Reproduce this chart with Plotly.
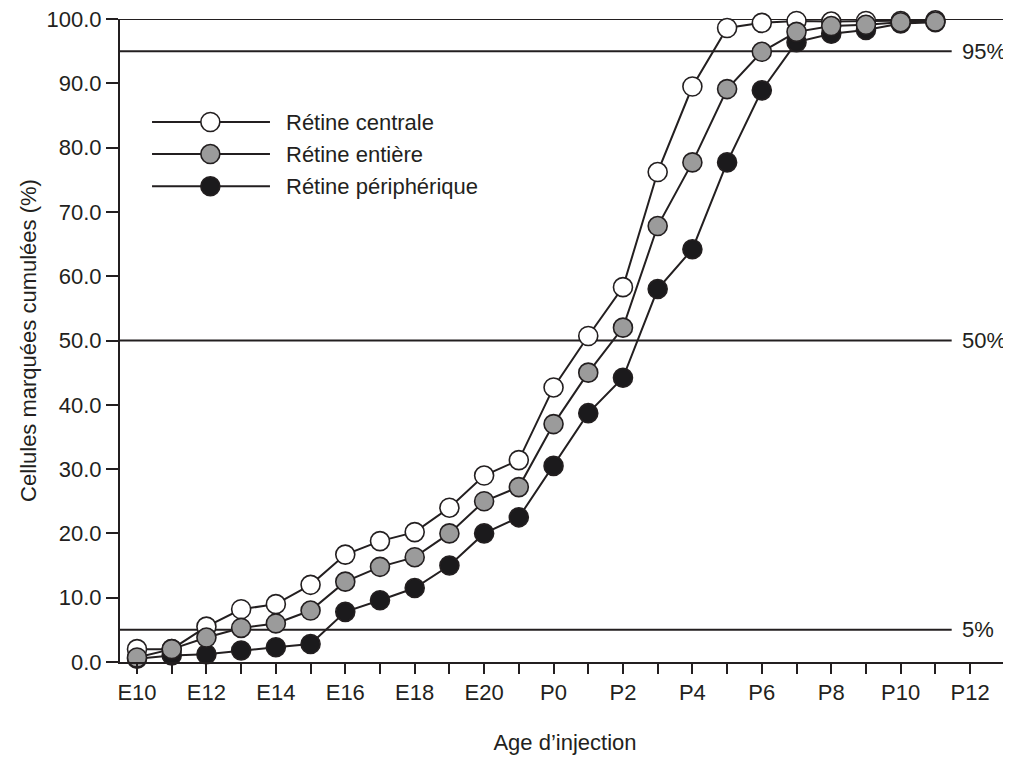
import plotly.graph_objects as go

ages = [f"E{i}" for i in range(10, 22)] + [f"P{i}" for i in range(0, 14)]
tick_labels = [a if k % 2 == 0 else "" for k, a in enumerate(ages)]

data_ages = ages[:24]  # E10 .. P11
centrale = [2.0, 2.0, 5.5, 8.2, 9.0, 12.0, 16.7, 18.8, 20.2, 24.0, 29.0, 31.4,
            42.7, 50.7, 58.3, 76.2, 89.5, 98.6, 99.4, 99.7, 99.6, 99.7, 99.7, 99.8]
entiere = [0.7, 2.0, 3.8, 5.3, 6.0, 8.0, 12.5, 14.8, 16.3, 20.0, 25.0, 27.2,
           37.0, 45.0, 52.0, 67.8, 77.7, 89.1, 94.9, 98.0, 98.9, 99.1, 99.5, 99.6]
peripherique = [0.5, 1.0, 1.2, 1.8, 2.3, 2.8, 7.8, 9.6, 11.5, 15.0, 20.0, 22.5,
                30.5, 38.7, 44.2, 58.0, 64.2, 77.7, 88.9, 96.4, 97.7, 98.3, 99.3, 99.5]

series_names = ["Rétine centrale", "Rétine entière", "Rétine périphérique"]
series_values = [centrale, entiere, peripherique]
series_fill = ["#ffffff", "#9b9b9b", "#1b1a1c"]

thresholds = [95, 50, 5]
threshold_labels = ["95%", "50%", "5%"]

INK = "#231f20"
FONT = "Liberation Sans, Arial, sans-serif"
FS = 22

x_idx = {a: k for k, a in enumerate(ages)}
xs = [x_idx[a] for a in data_ages]

fig = go.Figure()

# draw order: white, black, grey (grey on top)
for si in [0, 2, 1]:
    fig.add_trace(go.Scatter(
        x=xs, y=series_values[si], mode="lines+markers", name=series_names[si],
        line=dict(color=INK, width=2),
        marker=dict(size=19, color=series_fill[si], line=dict(color=INK, width=1.6)),
        cliponaxis=False, showlegend=False,
    ))

shapes = []
annotations = []
x_line_end = 23.47
for t, lab in zip(thresholds, threshold_labels):
    shapes.append(dict(type="line", xref="x", yref="y", x0=-0.49, x1=x_line_end, y0=t, y1=t,
                       line=dict(color=INK, width=2), layer="below"))
    annotations.append(dict(x=23.72, y=t, xref="x", yref="y", text=lab, showarrow=False,
                            xanchor="left", yanchor="middle",
                            font=dict(family=FONT, size=FS, color=INK)))
# top line at 100
shapes.append(dict(type="line", xref="paper", yref="y", x0=0, x1=1, y0=100, y1=100,
                   line=dict(color=INK, width=2), layer="below"))

# manual legend
leg_y = [0.8398, 0.790, 0.740]
for k, si in enumerate([0, 1, 2]):
    y = leg_y[k]
    shapes.append(dict(type="line", xref="paper", yref="paper", x0=0.036, x1=0.1685, y0=y, y1=y,
                       line=dict(color=INK, width=2)))
    shapes.append(dict(type="circle", xref="paper", yref="paper",
                       xsizemode="pixel", ysizemode="pixel", xanchor=0.1015, yanchor=y,
                       x0=-9.5, x1=9.5, y0=-9.5, y1=9.5,
                       fillcolor=series_fill[si], line=dict(color=INK, width=1.6)))
    annotations.append(dict(x=0.1845, y=y, xref="paper", yref="paper", text=series_names[si],
                            showarrow=False, xanchor="left", yanchor="middle",
                            font=dict(family=FONT, size=FS, color=INK)))

# page body has an 8px margin: shrink figure so that it fills the 1011x757 window
fig.update_layout(
    width=1003, height=749,
    margin=dict(l=112, r=1, t=11, b=95),
    paper_bgcolor="white", plot_bgcolor="white",
    font=dict(family=FONT, size=FS, color=INK),
    shapes=shapes, annotations=annotations,
    showlegend=False,
)
fig.update_xaxes(
    range=[-0.49, 25.15], tickmode="array", tickvals=list(range(len(ages))), ticktext=tick_labels,
    showline=True, linecolor=INK, linewidth=2, ticks="outside", ticklen=10, tickwidth=2,
    tickcolor=INK, showgrid=False, zeroline=False, automargin=False, ticklabeloverflow="allow",
    title=dict(text="Age d’injection", font=dict(family=FONT, size=FS, color=INK), standoff=30),
    tickfont=dict(family=FONT, size=FS, color=INK),
)
fig.update_yaxes(
    range=[0, 100], tickmode="array", tickvals=list(range(0, 101, 10)), tickformat=".1f",
    showline=True, linecolor=INK, linewidth=2, ticks="outside", ticklen=12, tickwidth=2,
    tickcolor=INK, showgrid=False, zeroline=False, automargin=False, ticklabeloverflow="allow",
    title=dict(text="Cellules marquées cumulées (%)", font=dict(family=FONT, size=FS, color=INK), standoff=4),
    tickfont=dict(family=FONT, size=FS, color=INK),
)

fig.write_html("out.html")
